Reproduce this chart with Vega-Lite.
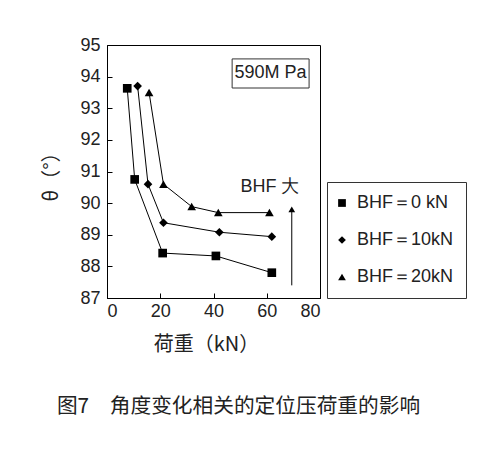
{
  "$schema": "https://vega.github.io/schema/vega-lite/v6.json",
  "autosize": "none",
  "width": 213,
  "height": 253,
  "padding": {"left": 107, "top": 45, "right": 183, "bottom": 153},
  "background": "white",
  "view": {"stroke": "black", "strokeWidth": 1},
  "title": {
    "text": "图7　角度变化相关的定位压荷重的影响",
    "orient": "bottom",
    "anchor": "middle",
    "frame": "group",
    "dx": 25,
    "offset": 43,
    "font": "Noto Sans CJK SC",
    "fontSize": 20.7,
    "fontWeight": "normal",
    "color": "#222"
  },
  "datasets": {
    "pts": [
      {"series": "BHF＝0 kN", "load": 7.6, "theta": 93.63},
      {"series": "BHF＝0 kN", "load": 10.4, "theta": 90.75},
      {"series": "BHF＝0 kN", "load": 20.9, "theta": 88.42},
      {"series": "BHF＝0 kN", "load": 40.9, "theta": 88.33},
      {"series": "BHF＝0 kN", "load": 61.9, "theta": 87.8},
      {"series": "BHF＝10kN", "load": 11.5, "theta": 93.7},
      {"series": "BHF＝10kN", "load": 15.4, "theta": 90.6},
      {"series": "BHF＝10kN", "load": 21.2, "theta": 89.38},
      {"series": "BHF＝10kN", "load": 42.2, "theta": 89.08},
      {"series": "BHF＝10kN", "load": 61.9, "theta": 88.94},
      {"series": "BHF＝20kN", "load": 15.8, "theta": 93.5},
      {"series": "BHF＝20kN", "load": 21.2, "theta": 90.6},
      {"series": "BHF＝20kN", "load": 31.8, "theta": 89.89},
      {"series": "BHF＝20kN", "load": 41.8, "theta": 89.7},
      {"series": "BHF＝20kN", "load": 61.0, "theta": 89.7}
    ],
    "box": [{"x1": 47.0, "x2": 75.9, "y1": 94.56, "y2": 93.64}],
    "labels": [
      {"x": 61.4, "y": 94.1, "t": "590M Pa"},
      {"x": 61.2, "y": 90.52, "t": "BHF 大"}
    ],
    "arrow": [{"x": 69.4, "y1": 87.4, "y2": 89.8}]
  },
  "encoding": {
    "x": {
      "type": "quantitative",
      "scale": {"domain": [0, 80], "nice": false},
      "axis": {
        "title": "荷重（kN）",
        "values": [0, 20, 40, 60, 80],
        "grid": false,
        "tickSize": -5,
        "tickColor": "black",
        "domainColor": "black",
        "labelFont": "Liberation Sans",
        "labelFontSize": 18,
        "labelColor": "#222",
        "labelPadding": 9,
        "titleFont": "Noto Sans CJK SC",
        "titleFontSize": 20,
        "titleFontWeight": "normal",
        "titleColor": "#222",
        "titlePadding": 14,
        "titleX": 99
      }
    },
    "y": {
      "type": "quantitative",
      "scale": {"domain": [87, 95], "nice": false, "zero": false},
      "axis": {
        "title": "θ（°）",
        "values": [87, 88, 89, 90, 91, 92, 93, 94, 95],
        "grid": false,
        "tickSize": -5,
        "tickColor": "black",
        "domainColor": "black",
        "labelFont": "Liberation Sans",
        "labelFontSize": 18,
        "labelColor": "#222",
        "labelPadding": 12,
        "titleFont": "Noto Sans CJK SC",
        "titleFontSize": 20,
        "titleFontWeight": "normal",
        "titleColor": "#222",
        "titlePadding": 18
      }
    }
  },
  "layer": [
    {
      "data": {"name": "pts"},
      "mark": {"type": "line", "color": "black", "strokeWidth": 1},
      "encoding": {
        "x": {"field": "load", "type": "quantitative"},
        "y": {"field": "theta", "type": "quantitative"},
        "detail": {"field": "series"}
      }
    },
    {
      "data": {"name": "pts"},
      "mark": {"type": "point", "filled": true, "color": "black", "opacity": 1, "size": 75},
      "encoding": {
        "x": {"field": "load", "type": "quantitative"},
        "y": {"field": "theta", "type": "quantitative"},
        "shape": {
          "field": "series",
          "type": "nominal",
          "scale": {"domain": ["BHF＝0 kN", "BHF＝10kN", "BHF＝20kN"], "range": ["square", "diamond", "triangle-up"]},
          "legend": {
            "title": null,
            "orient": "none",
            "legendX": 220,
            "legendY": 137,
            "padding": 12,
            "strokeColor": "#333",
            "rowPadding": 19,
            "symbolSize": 60,
            "symbolFillColor": "black",
            "symbolStrokeColor": "black",
            "symbolOffset": -6,
            "labelFont": "Liberation Sans",
            "labelFontSize": 18,
            "labelColor": "#222",
            "labelOffset": 6
          }
        }
      }
    },
    {
      "data": {"name": "box"},
      "mark": {"type": "rect", "fill": "white", "stroke": "#333", "strokeWidth": 1},
      "encoding": {
        "x": {"field": "x1", "type": "quantitative"},
        "x2": {"field": "x2"},
        "y": {"field": "y1", "type": "quantitative"},
        "y2": {"field": "y2"}
      }
    },
    {
      "data": {"name": "labels"},
      "mark": {"type": "text", "font": "Liberation Sans", "fontSize": 18, "color": "#222", "align": "center", "baseline": "middle"},
      "encoding": {
        "x": {"field": "x", "type": "quantitative"},
        "y": {"field": "y", "type": "quantitative"},
        "text": {"field": "t"}
      }
    },
    {
      "data": {"name": "arrow"},
      "mark": {"type": "rule", "color": "black", "strokeWidth": 1},
      "encoding": {
        "x": {"field": "x", "type": "quantitative"},
        "y": {"field": "y1", "type": "quantitative"},
        "y2": {"field": "y2"}
      }
    },
    {
      "data": {"name": "arrow"},
      "mark": {"type": "point", "shape": "triangle-up", "filled": true, "color": "black", "opacity": 1, "size": 45},
      "encoding": {
        "x": {"field": "x", "type": "quantitative"},
        "y": {"field": "y2", "type": "quantitative"}
      }
    }
  ]
}
